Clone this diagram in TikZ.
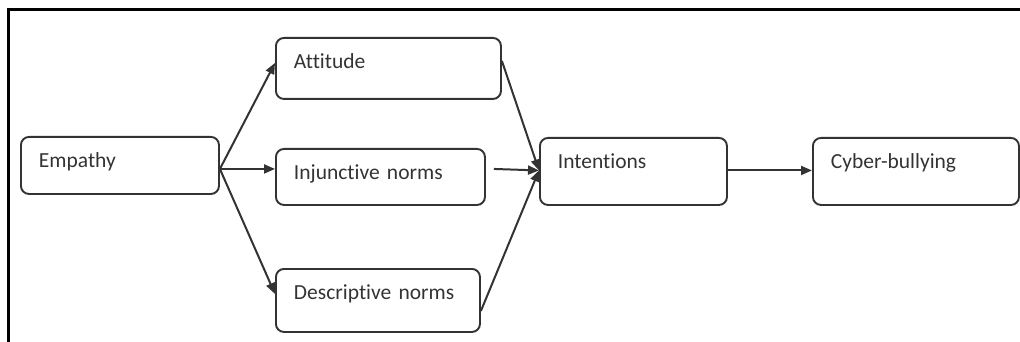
\documentclass[tikz,border=0pt]{standalone}
\usepackage{fontspec}
\setmainfont[Ligatures={NoCommon,NoContextual}]{Carlito}
\usetikzlibrary{arrows.meta}
\definecolor{edge}{HTML}{333333}
\definecolor{txt}{HTML}{333333}
\tikzset{
  box/.style n args={2}{draw=edge, line width=1.9pt, rounded corners=8pt, anchor=north west,
    inner xsep=18pt, inner ysep=0pt, text height=31pt, text depth={#2-31pt},
    text width={#1-36pt}, align=left, text=txt,
    font=\fontsize{21.5}{24}\selectfont},
  conn/.style={draw=edge, line width=2pt, -{Triangle[length=11pt,width=9pt]}},
}
\begin{document}
\begin{tikzpicture}[x=1pt,y=-1pt]
\useasboundingbox (0,0) rectangle (1020,342);
\draw[line width=2.6pt, black] (8.5,343) -- (8.5,9.5) -- (1021,9.5);
\node[box={198pt}{57pt}] (emp) at (20,136) {Empathy};
\node[box={225pt}{61pt}] (att) at (275,37) {Attitude};
\node[box={209pt}{56pt}] (inj) at (275,148) {Injunctive norms};
\node[box={204pt}{63pt}] (desc) at (275,268) {Descriptive norms};
\node[box={187pt}{67pt}] (int) at (539,137) {Intentions};
\node[box={206pt}{67pt}] (cyb) at (812,137) {Cyber-bullying};
\draw[conn] ([yshift=-3.5pt]emp.east) -- ([yshift=5.5pt]att.west);
\draw[conn] ([yshift=-3.5pt]emp.east) -- ([yshift=8pt]inj.west);
\draw[conn] ([yshift=-3.5pt]emp.east) -- ([yshift=6.5pt]desc.west);
\draw[conn] ([yshift=7.5pt]att.east) -- ([yshift=1pt]int.west);
\draw[conn] ([shift={(8pt,8pt)}]inj.east) -- ([yshift=1pt]int.west);
\draw[conn] ([yshift=-10.5pt]desc.east) -- ([yshift=1pt]int.west);
\draw[conn] ([yshift=1pt]int.east) -- ([yshift=1pt]cyb.west);
\end{tikzpicture}
\end{document}
